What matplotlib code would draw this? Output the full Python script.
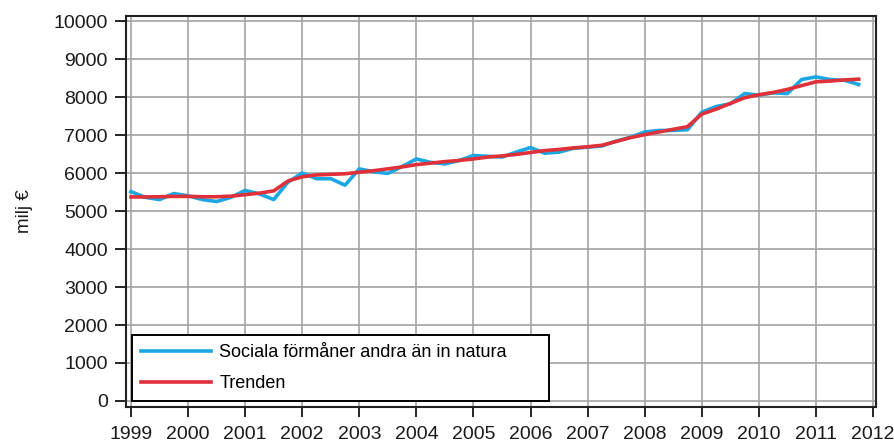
import numpy as np
import matplotlib
matplotlib.use("Agg")
import matplotlib.pyplot as plt

plt.rcParams['font.family'] = ['Liberation Sans', 'DejaVu Sans']

# quarterly data 1999Q1 .. 2011Q4
start_year = 1999
n_quarters = 52

sociala = [
    5510, 5360, 5300, 5460, 5400, 5300, 5250, 5360,
    5540, 5450, 5300, 5760, 6000, 5850, 5850, 5680,
    6110, 6030, 5990, 6170, 6370, 6280, 6240, 6330,
    6460, 6440, 6420, 6550, 6670, 6520, 6550, 6650,
    6680, 6710, 6840, 6940, 7080, 7120, 7120, 7140,
    7600, 7750, 7820, 8090, 8050, 8110, 8090, 8460,
    8530, 8460, 8440, 8330,
]

trenden = [
    5370, 5370, 5375, 5385, 5385, 5375, 5375, 5390,
    5430, 5470, 5530, 5790, 5900, 5950, 5965, 5980,
    6020, 6060, 6110, 6160, 6220, 6260, 6300, 6330,
    6370, 6420, 6450, 6490, 6540, 6590, 6620, 6660,
    6690, 6730, 6830, 6930, 7010, 7080, 7150, 7220,
    7550, 7680, 7830, 7980, 8060, 8120, 8200, 8300,
    8400, 8420, 8450, 8470,
]

labels = ["Sociala förmåner andra än in natura", "Trenden"]
year_ticks = list(range(1999, 2013))
y_ticks = list(range(0, 10001, 1000))

x = start_year + np.arange(n_quarters) / 4.0

fig = plt.figure(figsize=(8.95, 4.47), dpi=100)
ax = fig.add_axes([126 / 895, 1 - 407 / 447, 750 / 895, 391 / 447])

ax.plot(x, sociala, color='#1ba7e3', lw=2.6, label=labels[0], zorder=3)
ax.plot(x, trenden, color='#e0313a', lw=2.6, label=labels[1], zorder=4)

ax.set_xlim(1998.912, 2012.053)
ax.set_ylim(-158, 10132)
ax.set_xticks(year_ticks)
ax.set_yticks(y_ticks)
ax.grid(True, color='#a3a3a3', lw=1.2)
ax.set_axisbelow(True)
ax.tick_params(labelsize=14, width=1.2, colors='black', labelcolor='#1a1a1a')
ax.tick_params(axis='x', length=7, pad=7)
ax.tick_params(axis='y', length=8, pad=5)
for s in ax.spines.values():
    s.set_linewidth(1.5)
    s.set_color('#222222')

ax.set_ylabel("milj €", fontsize=13.5, color='#1a1a1a', labelpad=15)

leg = ax.legend(loc='lower left', bbox_to_anchor=(0.0076, 0.0153, 0.5564, 0.17),
                mode='expand', fontsize=13, frameon=True, fancybox=False,
                handlelength=3.9, labelspacing=0.75, borderaxespad=0,
                handletextpad=0.45, borderpad=0.5)
leg.get_frame().set_edgecolor('black')
leg.get_frame().set_linewidth(1.4)
leg.get_frame().set_alpha(1)

fig.savefig("out.png", dpi=100)
